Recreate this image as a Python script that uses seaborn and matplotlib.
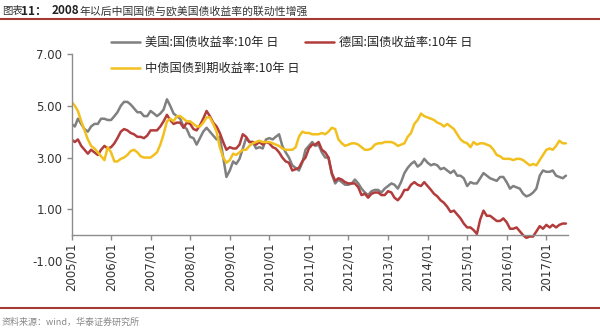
import numpy as np
import pandas as pd
import matplotlib
matplotlib.use("Agg")
import matplotlib.pyplot as plt
import matplotlib.lines as mlines
import seaborn as sns

# ---------------- data (monthly readings, 2005/01 - 2017/07) ----------------
months = pd.date_range("2005-01-01", "2017-07-01", freq="MS")

us_10y = [
    4.30, 4.20, 4.50, 4.30, 4.10, 4.00, 4.20, 4.30, 4.30, 4.50, 4.50, 4.45,   # 2005
    4.45, 4.60, 4.75, 5.00, 5.15, 5.15, 5.05, 4.90, 4.75, 4.75, 4.60, 4.60,   # 2006
    4.80, 4.70, 4.60, 4.70, 4.85, 5.25, 5.00, 4.70, 4.60, 4.50, 4.20, 4.10,   # 2007
    3.80, 3.75, 3.50, 3.75, 4.00, 4.15, 4.00, 3.85, 3.70, 3.80, 3.00, 2.25,   # 2008
    2.50, 2.85, 2.75, 2.95, 3.35, 3.75, 3.60, 3.60, 3.35, 3.40, 3.35, 3.70,   # 2009
    3.75, 3.70, 3.80, 3.90, 3.45, 3.20, 3.00, 2.70, 2.60, 2.50, 2.80, 3.30,   # 2010
    3.45, 3.60, 3.45, 3.50, 3.20, 3.00, 3.00, 2.35, 2.00, 2.15, 2.05, 1.95,   # 2011
    1.95, 2.00, 2.15, 2.00, 1.80, 1.65, 1.55, 1.70, 1.75, 1.75, 1.65, 1.80,   # 2012
    1.90, 2.00, 1.95, 1.80, 2.05, 2.40, 2.60, 2.75, 2.85, 2.65, 2.75, 2.95,   # 2013
    2.80, 2.70, 2.75, 2.70, 2.55, 2.60, 2.50, 2.40, 2.50, 2.30, 2.30, 2.20,   # 2014
    1.90, 2.05, 2.00, 2.00, 2.20, 2.40, 2.30, 2.20, 2.15, 2.10, 2.25, 2.25,   # 2015
    2.05, 1.80, 1.90, 1.85, 1.80, 1.60, 1.50, 1.55, 1.65, 1.80, 2.30, 2.50,   # 2016
    2.45, 2.45, 2.50, 2.30, 2.25, 2.20, 2.30,                                 # 2017
]

de_10y = [
    3.70, 3.60, 3.70, 3.45, 3.30, 3.15, 3.30, 3.20, 3.10, 3.30, 3.45, 3.35,   # 2005
    3.40, 3.55, 3.75, 4.00, 4.10, 4.05, 3.95, 3.90, 3.80, 3.80, 3.75, 3.85,   # 2006
    4.05, 4.05, 4.05, 4.20, 4.40, 4.65, 4.45, 4.30, 4.35, 4.35, 4.15, 4.35,   # 2007
    4.30, 4.10, 4.05, 4.25, 4.50, 4.80, 4.60, 4.35, 4.20, 3.95, 3.60, 3.30,   # 2008
    3.40, 3.35, 3.35, 3.50, 3.90, 3.80, 3.60, 3.60, 3.50, 3.60, 3.50, 3.60,   # 2009
    3.55, 3.40, 3.35, 3.20, 3.00, 2.85, 2.80, 2.50, 2.55, 2.60, 2.85, 3.00,   # 2010
    3.35, 3.50, 3.50, 3.60, 3.30, 3.20, 3.00, 2.40, 2.10, 2.20, 2.15, 2.05,   # 2011
    2.00, 2.00, 2.00, 1.85, 1.55, 1.60, 1.45, 1.60, 1.65, 1.65, 1.55, 1.55,   # 2012
    1.70, 1.65, 1.45, 1.35, 1.50, 1.75, 1.75, 1.95, 2.05, 1.95, 1.90, 2.05,   # 2013
    1.90, 1.75, 1.60, 1.50, 1.35, 1.25, 1.10, 0.90, 0.95, 0.80, 0.65, 0.45,   # 2014
    0.30, 0.30, 0.20, 0.05, 0.60, 0.95, 0.75, 0.75, 0.65, 0.55, 0.55, 0.65,   # 2015
    0.50, 0.25, 0.25, 0.30, 0.15, 0.00, -0.10, -0.05, -0.05, 0.15, 0.35, 0.25, # 2016
    0.40, 0.30, 0.40, 0.30, 0.40, 0.45, 0.45,                                 # 2017
]

cn_10y = [
    5.15, 5.00, 4.80, 4.40, 4.05, 3.70, 3.45, 3.35, 3.20, 3.05, 2.90, 3.40,   # 2005
    3.20, 2.85, 2.85, 2.95, 3.00, 3.10, 3.25, 3.30, 3.20, 3.05, 3.00, 3.00,   # 2006
    3.00, 3.10, 3.20, 3.50, 3.90, 4.40, 4.50, 4.40, 4.60, 4.60, 4.50, 4.40,   # 2007
    4.40, 4.30, 4.20, 4.20, 4.35, 4.55, 4.55, 4.30, 4.00, 3.40, 3.00, 2.80,   # 2008
    2.90, 3.15, 3.10, 3.20, 3.30, 3.30, 3.45, 3.55, 3.60, 3.65, 3.60, 3.60,   # 2009
    3.60, 3.55, 3.50, 3.45, 3.35, 3.30, 3.30, 3.30, 3.40, 3.80, 4.00, 3.95,   # 2010
    3.95, 3.90, 3.90, 3.90, 3.95, 3.90, 4.00, 4.15, 4.10, 3.70, 3.55, 3.45,   # 2011
    3.50, 3.55, 3.55, 3.50, 3.40, 3.30, 3.30, 3.35, 3.50, 3.55, 3.55, 3.60,   # 2012
    3.60, 3.60, 3.55, 3.45, 3.50, 3.55, 3.80, 3.95, 4.30, 4.45, 4.70, 4.60,   # 2013
    4.55, 4.50, 4.45, 4.35, 4.30, 4.20, 4.30, 4.20, 4.10, 3.90, 3.70, 3.60,   # 2014
    3.55, 3.40, 3.60, 3.50, 3.55, 3.55, 3.50, 3.45, 3.30, 3.10, 3.05, 2.95,   # 2015
    2.95, 2.95, 2.90, 2.95, 2.95, 2.90, 2.80, 2.70, 2.75, 2.70, 2.90, 3.10,   # 2016
    3.30, 3.35, 3.30, 3.45, 3.65, 3.55, 3.55,                                 # 2017
]

series_names = ["美国:国债收益率:10年 日", "德国:国债收益率:10年 日", "中债国债到期收益率:10年 日"]
series_colors = ["#808080", "#b23c3c", "#f2c01e"]
yticks = [-1, 1, 3, 5, 7]
ytick_labels = ["-1.00", "1.00", "3.00", "5.00", "7.00"]
tick_years = list(range(2005, 2018))
xtick_labels = [f"{y}/01" for y in tick_years]

title_prefix = "图表"
title_num = "11："
title_year = "2008"
title_rest = "年以后中国国债与欧美国债收益率的联动性增强"
source_text = "资料来源：wind，华泰证券研究所"

# ---------------- build long table ----------------
df = pd.concat([
    pd.DataFrame({"date": months, "value": vals, "series": name})
    for name, vals in zip(series_names, [us_10y, de_10y, cn_10y])
], ignore_index=True)

sns.set_theme(style="white")
plt.rcParams['font.family'] = ['Noto Sans CJK SC', 'DejaVu Sans']
plt.rcParams['axes.unicode_minus'] = False

W, H = 600, 331
fig = plt.figure(figsize=(6, 3.31), dpi=100)
fig.patch.set_facecolor("white")

x0, x1 = 71.5, 568
ytop, ybot = 54, 261.1
ax = fig.add_axes([x0 / W, 1 - ybot / H, (x1 - x0) / W, (ybot - ytop) / H])

palette = dict(zip(series_names, series_colors))
sns.lineplot(data=df, x="date", y="value", hue="series", hue_order=series_names,
             palette=palette, linewidth=1.8, ax=ax, legend=False)

ax.set_xlim(pd.Timestamp("2005-01-01"), pd.Timestamp("2017-07-20"))
ax.set_ylim(-1, 7)
ax.set_xlabel("")
ax.set_ylabel("")

spine_col = "#8c8c8c"
for s in ["top", "right"]:
    ax.spines[s].set_visible(False)
ax.spines["left"].set_color(spine_col)
ax.spines["bottom"].set_color(spine_col)
ax.spines["left"].set_linewidth(1.0)
ax.spines["bottom"].set_linewidth(1.0)
ax.spines["bottom"].set_position(("data", 0))
ax.spines["left"].set_bounds(0, 7)

ax.set_yticks(yticks)
ax.set_yticklabels(ytick_labels, fontsize=8.5, color="#333333", family="DejaVu Sans")
ax.set_xticks([pd.Timestamp(f"{y}-01-01") for y in tick_years])
ax.set_xticklabels(xtick_labels, rotation=90, fontsize=8.5, color="#333333",
                   family="DejaVu Sans", va="top")
ax.tick_params(axis="y", which="major", left=True, length=3.5, width=1,
               color=spine_col, pad=3)
ax.tick_params(axis="x", which="major", bottom=True, length=3.5, width=1,
               color=spine_col, pad=1.5)
ax.yaxis.get_major_ticks()[0].tick1line.set_visible(False)
ax.grid(False)

# legend
handles = {n: mlines.Line2D([], [], color=c, linewidth=1.8)
           for n, c in zip(series_names, series_colors)}
order = [series_names[0], series_names[2], series_names[1]]
ax.legend([handles[n] for n in order], order, ncol=2, loc="upper left",
          bbox_to_anchor=(111 / W, 1 - 36 / H), bbox_transform=fig.transFigure,
          frameon=False, fontsize=8.8, handlelength=2.4, handletextpad=0.4,
          columnspacing=0.4, labelspacing=1.05, borderpad=0, borderaxespad=0)

# title and rules
ty = 1 - 11 / H
fig.text(2 / W, ty, title_prefix, fontsize=7.5, color="#333333", va="center", ha="left")
fig.text(21 / W, ty, title_num, fontsize=8.5, color="#222222", va="center", ha="left",
         fontweight="bold")
fig.text(52 / W, ty, title_year, fontsize=8.5, color="#222222", va="center", ha="left",
         fontweight="bold")
fig.text(80 / W, ty, title_rest, fontsize=7.8, color="#333333", va="center", ha="left")

fig.add_artist(mlines.Line2D([0, 1], [1 - 19 / H, 1 - 19 / H], transform=fig.transFigure,
                             color="#a33a33", linewidth=1.5))
fig.add_artist(mlines.Line2D([0, 1], [1 - 308 / H, 1 - 308 / H], transform=fig.transFigure,
                             color="#a33a33", linewidth=1.5))
fig.text(2 / W, 1 - 322 / H, source_text, fontsize=6.5, color="#888888", va="center",
         ha="left")

fig.savefig("out.png", dpi=100, facecolor="white")
